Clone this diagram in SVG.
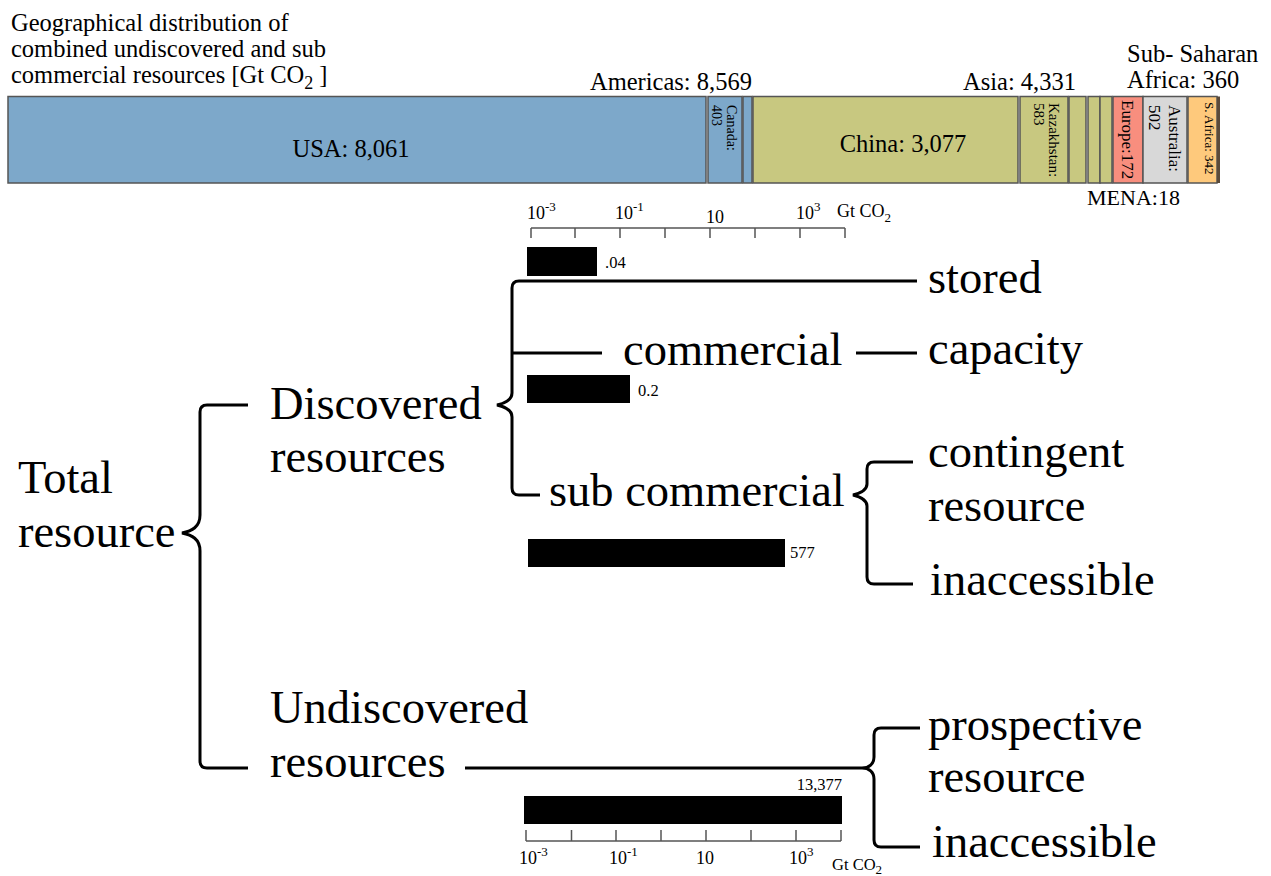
<svg xmlns="http://www.w3.org/2000/svg" width="1271" height="876" viewBox="0 0 1271 876">
<style>
text{font-family:"Liberation Serif","Times New Roman",serif;fill:#000}
.big{font-size:46.5px}
.mid{font-size:24.5px}
.sm{font-size:16.5px}
.ax{font-size:18px}
.sup{font-size:13px}
.box{stroke:#555;stroke-width:1.5}
.usa{fill:#7DA8CA}
.asia{fill:#C8C880}
.eu{fill:#F88E7E}
.au{fill:#D8D8D8}
.af{fill:#FEC97C}
.br{fill:none;stroke:#000;stroke-width:3}
.tick{fill:none;stroke:#555;stroke-width:1.5}
</style>
<rect width="1271" height="876" fill="#fff"/>

<g id="title">
<text class="mid" x="11" y="31" font-size="25">Geographical distribution of</text>
<text class="mid" x="11" y="57" font-size="25">combined undiscovered and sub</text>
<text class="mid" x="11" y="83" font-size="25">commercial resources [Gt CO<tspan font-size="18" dy="6">2</tspan><tspan dy="-6"> ]</tspan></text>
</g>

<g id="region-labels">
<text class="mid" x="590" y="90">Americas: 8,569</text>
<text class="mid" x="963" y="90">Asia: 4,331</text>
<text class="mid" x="1127" y="62">Sub- Saharan</text>
<text class="mid" x="1127" y="88">Africa: 360</text>
<text x="1087" y="205" font-size="22">MENA:18</text>
</g>

<g id="bar-chart">
<rect class="box usa" x="8" y="96.5" width="698" height="86.5"/>
<rect class="box usa" x="708" y="96.5" width="34" height="86.5"/>
<rect class="box usa" x="743" y="96.5" width="9" height="86.5"/>
<rect class="box asia" x="753" y="96.5" width="265" height="86.5"/>
<rect class="box asia" x="1020" y="96.5" width="48" height="86.5"/>
<rect class="box asia" x="1069" y="96.5" width="17" height="86.5"/>
<rect class="box asia" x="1088" y="96.5" width="12" height="86.5"/>
<rect class="box asia" x="1100" y="96.5" width="12" height="86.5"/>
<rect class="box eu" x="1113" y="96.5" width="30" height="86.5"/>
<rect class="box au" x="1143" y="96.5" width="44" height="86.5"/>
<rect class="box af" x="1188" y="96.5" width="29" height="86.5"/>
<rect x="1217" y="96.5" width="3" height="86.5" fill="#5a4a3a"/>
<text class="mid" x="351" y="157" text-anchor="middle">USA: 8,061</text>
<text class="mid" x="903" y="152" text-anchor="middle">China: 3,077</text>
<text font-size="14" transform="translate(727,105) rotate(90)"><tspan x="0" y="0">Canada:</tspan><tspan x="0" y="15">403</tspan></text>
<text font-size="15" transform="translate(1049,103) rotate(90)"><tspan x="0" y="0">Kazakhstan:</tspan><tspan x="0" y="15">583</tspan></text>
<text font-size="17" transform="translate(1122,100) rotate(90)">Europe:172</text>
<text font-size="17" transform="translate(1169,105) rotate(90)"><tspan x="0" y="0">Australia:</tspan><tspan x="0" y="20">502</tspan></text>
<text font-size="13" transform="translate(1205,102) rotate(90)">S. Africa: 342</text>
</g>

<g id="axis-top">
<path class="tick" d="M531,228H845M531,228V238M575,228V238M620,228V238M665,228V238M710,228V238M755,228V238M800,228V238M845,228V238"/>
<text class="ax" x="527" y="219">10<tspan class="sup" dy="-8">-3</tspan></text>
<text class="ax" x="615" y="219">10<tspan class="sup" dy="-8">-1</tspan></text>
<text class="ax" x="706" y="223">10</text>
<text class="ax" x="796" y="219">10<tspan class="sup" dy="-8">3</tspan></text>
<text class="ax" x="837" y="217">Gt CO<tspan class="sup" dy="5">2</tspan></text>
</g>

<g id="axis-bottom">
<path class="tick" d="M526,841H841M526,830V841M571.5,830V841M616,830V841M661,830V841M706,830V841M751,830V841M796,830V841M841,830V841"/>
<text class="ax" x="519" y="864">10<tspan class="sup" dy="-8">-3</tspan></text>
<text class="ax" x="609" y="864">10<tspan class="sup" dy="-8">-1</tspan></text>
<text class="ax" x="696" y="864">10</text>
<text class="ax" x="789" y="864">10<tspan class="sup" dy="-8">3</tspan></text>
<text class="sm" x="832" y="870">Gt CO<tspan class="sup" dy="4">2</tspan></text>
</g>

<g id="bars">
<rect x="527" y="247" width="70" height="29" fill="#000"/>
<text class="sm" x="605" y="268">.04</text>
<rect x="527" y="375" width="103" height="28" fill="#000"/>
<text class="sm" x="638" y="396">0.2</text>
<rect x="528" y="539" width="257" height="28" fill="#000"/>
<text class="sm" x="790" y="558">577</text>
<rect x="524" y="796" width="318" height="28" fill="#000"/>
<text class="sm" x="842" y="790" text-anchor="end">13,377</text>
</g>

<g id="connectors">
<path class="br" d="M248,405H207Q200,405 200,412V515C200,527 192,531 182,533C192,535 200,539 200,551V761Q200,768 207,768H248"/>
<path class="br" d="M917,281H519Q512,281 512,288V393C512,400 506,403 497,405C506,407 512,410 512,417V488Q512,495 519,495H540"/>
<path class="br" d="M512,353H602"/>
<path class="br" d="M856,353H917"/>
<path class="br" d="M913,462H874Q867,462 867,469V484C867,490 861,493 853,495C861,497 867,500 867,506V577Q867,584 874,584H913"/>
<path class="br" d="M465,768H862C869,768 874,764 874,757V735Q874,728 881,728H920M862,768C869,768 874,772 874,779V840Q874,847 881,847H920"/>
</g>

<g id="node-total"><text class="big" x="18" y="493">Total</text><text class="big" x="18" y="547">resource</text></g>
<g id="node-discovered"><text class="big" x="270" y="419">Discovered</text><text class="big" x="270" y="472">resources</text></g>
<g id="node-undiscovered"><text class="big" x="270" y="723">Undiscovered</text><text class="big" x="270" y="777">resources</text></g>
<g id="node-commercial"><text class="big" x="623" y="365">commercial</text></g>
<g id="node-subcommercial"><text class="big" x="549" y="506">sub commercial</text></g>
<g id="node-stored"><text class="big" x="928" y="293">stored</text></g>
<g id="node-capacity"><text class="big" x="928" y="364">capacity</text></g>
<g id="node-contingent"><text class="big" x="928" y="467">contingent</text><text class="big" x="928" y="521">resource</text></g>
<g id="node-inaccessible1"><text class="big" x="930" y="595">inaccessible</text></g>
<g id="node-prospective"><text class="big" x="928" y="740">prospective</text><text class="big" x="928" y="792">resource</text></g>
<g id="node-inaccessible2"><text class="big" x="932" y="857">inaccessible</text></g>
</svg>
